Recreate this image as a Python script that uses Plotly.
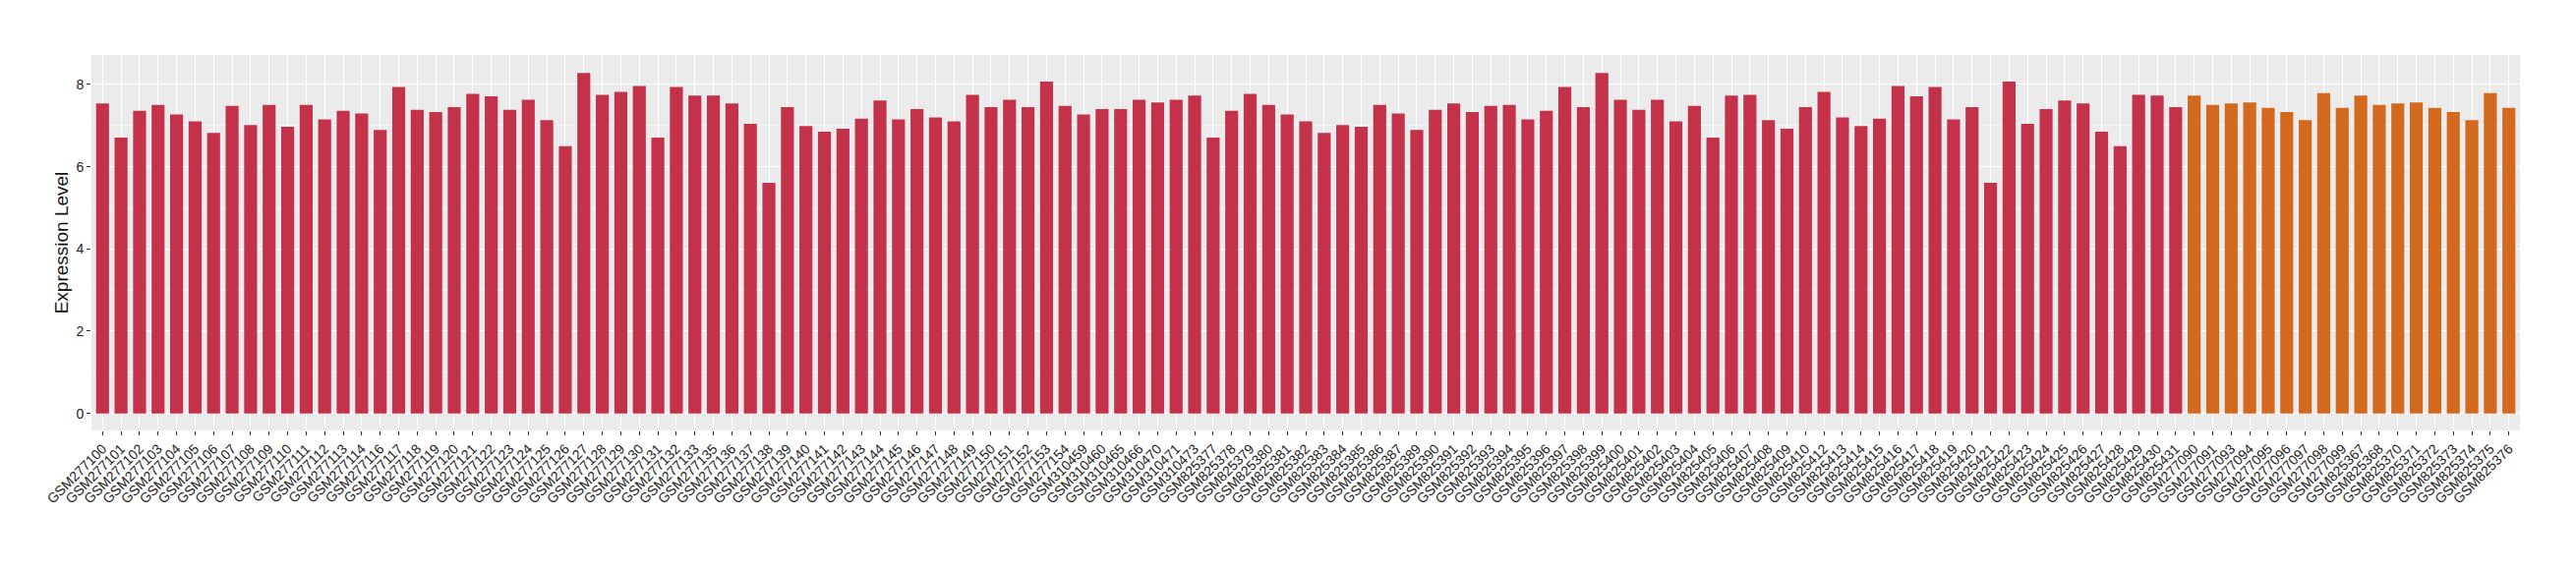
import plotly.graph_objects as go

# ---- data ----
red_samples = [
    "GSM277100", "GSM277101", "GSM277102", "GSM277103", "GSM277104", "GSM277105",
    "GSM277106", "GSM277107", "GSM277108", "GSM277109", "GSM277110", "GSM277111",
    "GSM277112", "GSM277113", "GSM277114", "GSM277116", "GSM277117", "GSM277118",
    "GSM277119", "GSM277120", "GSM277121", "GSM277122", "GSM277123", "GSM277124",
    "GSM277125", "GSM277126", "GSM277127", "GSM277128", "GSM277129", "GSM277130",
    "GSM277131", "GSM277132", "GSM277133", "GSM277135", "GSM277136", "GSM277137",
    "GSM277138", "GSM277139", "GSM277140", "GSM277141", "GSM277142", "GSM277143",
    "GSM277144", "GSM277145", "GSM277146", "GSM277147", "GSM277148", "GSM277149",
    "GSM277150", "GSM277151", "GSM277152", "GSM277153", "GSM277154", "GSM310459",
    "GSM310460", "GSM310465", "GSM310466", "GSM310470", "GSM310471", "GSM310473",
    "GSM825377", "GSM825378", "GSM825379", "GSM825380", "GSM825381", "GSM825382",
    "GSM825383", "GSM825384", "GSM825385", "GSM825386", "GSM825387", "GSM825389",
    "GSM825390", "GSM825391", "GSM825392", "GSM825393", "GSM825394", "GSM825395",
    "GSM825396", "GSM825397", "GSM825398", "GSM825399", "GSM825400", "GSM825401",
    "GSM825402", "GSM825403", "GSM825404", "GSM825405", "GSM825406", "GSM825407",
    "GSM825408", "GSM825409", "GSM825410", "GSM825412", "GSM825413", "GSM825414",
    "GSM825415", "GSM825416", "GSM825417", "GSM825418", "GSM825419", "GSM825420",
    "GSM825421", "GSM825422", "GSM825423", "GSM825424", "GSM825425", "GSM825426",
    "GSM825427", "GSM825428", "GSM825429", "GSM825430", "GSM825431",
]
red_values = [
    7.54, 6.71, 7.36, 7.50, 7.27, 7.10,
    6.82, 7.48, 7.01, 7.50, 6.97, 7.50,
    7.15, 7.36, 7.29, 6.89, 7.94, 7.38,
    7.33, 7.45, 7.77, 7.71, 7.38, 7.63,
    7.13, 6.50, 8.28, 7.75, 7.82, 7.96,
    6.71, 7.94, 7.73, 7.73, 7.54, 7.04,
    5.61, 7.45, 6.99, 6.85, 6.92, 7.17,
    7.61, 7.15, 7.40, 7.20, 7.10, 7.75,
    7.45, 7.63, 7.45, 8.07, 7.48, 7.27,
    7.40, 7.40, 7.63, 7.56, 7.63, 7.73,
    6.71, 7.36, 7.77, 7.50, 7.27, 7.10,
    6.82, 7.01, 6.97, 7.50, 7.29, 6.89,
    7.38, 7.54, 7.33, 7.48, 7.50, 7.15,
    7.36, 7.94, 7.45, 8.28, 7.63, 7.38,
    7.63, 7.10, 7.48, 6.71, 7.73, 7.75,
    7.13, 6.92, 7.45, 7.82, 7.20, 6.99,
    7.17, 7.96, 7.71, 7.94, 7.15, 7.45,
    5.61, 8.07, 7.04, 7.40, 7.61, 7.54,
    6.85, 6.50, 7.75, 7.73, 7.45,
]
orange_samples = [
    "GSM277090", "GSM277091", "GSM277093", "GSM277094", "GSM277095", "GSM277096",
    "GSM277097", "GSM277098", "GSM277099", "GSM825367", "GSM825368", "GSM825370",
    "GSM825371", "GSM825372", "GSM825373", "GSM825374", "GSM825375", "GSM825376",
]
orange_values = [
    7.73, 7.50, 7.54, 7.56, 7.43, 7.33,
    7.13, 7.79, 7.43, 7.73, 7.50, 7.54,
    7.56, 7.43, 7.33, 7.13, 7.79, 7.43,
]
y_tick_values = [0, 2, 4, 6, 8]
y_title = "Expression Level"

RED = "#C3314A"
ORANGE = "#D3691F"

categories = red_samples + orange_samples
values = red_values + orange_values
colors = [RED] * len(red_samples) + [ORANGE] * len(orange_samples)

fig = go.Figure()
fig.add_trace(go.Bar(
    x=categories, y=values,
    marker=dict(color=colors, line=dict(width=0)),
    showlegend=False,
))

n = len(categories)
font_family = "Liberation Sans, Arial, sans-serif"
# page body adds an 8px margin; figure sized to fit the window
fig.update_layout(
    width=2604, height=564,
    margin=dict(l=85, r=49, t=48, b=134),
    paper_bgcolor="white",
    plot_bgcolor="#EBEBEB",
    bargap=0.3,
    font=dict(family=font_family, color="#222222"),
    xaxis=dict(
        type="category",
        categoryorder="array", categoryarray=categories,
        range=[-0.6, n - 1 + 0.6],
        tickangle=-45,
        tickfont=dict(size=14, color="#222222", family=font_family),
        ticks="outside", ticklen=4, tickwidth=1, tickcolor="#333333",
        showgrid=True, gridcolor="white", gridwidth=1.3,
        zeroline=False, showline=False,
        automargin=False,
    ),
    yaxis=dict(
        range=[-0.415, 8.715],
        tickvals=y_tick_values,
        tickfont=dict(size=14, color="#222222", family=font_family),
        ticks="outside", ticklen=4, tickwidth=1, tickcolor="#333333",
        showgrid=True, gridcolor="white", gridwidth=1.3,
        minor=dict(dtick=1, tick0=0, showgrid=True, gridcolor="#F5F5F5", gridwidth=0.7, ticks=""),
        zeroline=False, showline=False,
        title=dict(text=y_title, font=dict(size=19, color="#111111", family=font_family), standoff=2),
        automargin=False,
    ),
)

fig.write_html("out.html")
